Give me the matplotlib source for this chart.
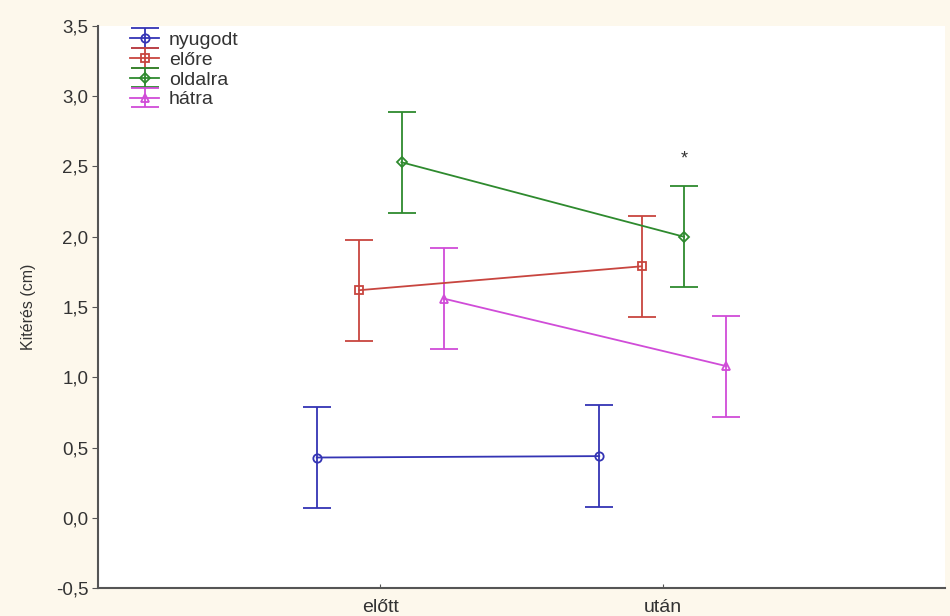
import matplotlib
matplotlib.use("Agg")
import matplotlib.pyplot as plt
import numpy as np

plt.rcParams['font.family'] = ['Liberation Sans', 'DejaVu Sans']

categories = ["előtt", "után"]
series = ["nyugodt", "előre", "oldalra", "hátra"]
means = {
    "nyugodt": [0.43, 0.44],
    "előre": [1.62, 1.79],
    "oldalra": [2.53, 2.00],
    "hátra": [1.56, 1.08],
}
errors = {
    "nyugodt": [0.36, 0.36],
    "előre": [0.36, 0.36],
    "oldalra": [0.36, 0.36],
    "hátra": [0.36, 0.36],
}
offsets = [-0.225, -0.075, 0.075, 0.225]
colors = ["#3434b4", "#c8453f", "#2e8a2e", "#d04cd8"]
markers = ["o", "s", "D", "^"]
yticks = [-0.5, 0.0, 0.5, 1.0, 1.5, 2.0, 2.5, 3.0, 3.5]
star_pos = (2 + 0.075, 2.55)

fig = plt.figure(figsize=(9.5, 6.16), dpi=100, facecolor="#fdf8ec")
ax = fig.add_axes([0.103, 0.045, 0.892, 0.913])
ax.set_facecolor("white")

x = np.arange(1, len(categories) + 1)
for s, off, c, m in zip(series, offsets, colors, markers):
    ms = 5 if m == "D" else 6
    ax.errorbar(x + off, means[s], yerr=errors[s], color=c, marker=m, ms=ms,
                mfc="none", mec=c, mew=1.3, lw=1.3, capsize=10, capthick=1.3,
                elinewidth=1.3, label=s)

ax.text(star_pos[0], star_pos[1], "*", ha="center", va="center", fontsize=13, color="#333333")

ax.set_xlim(0, 3)
ax.set_ylim(-0.5, 3.5)
ax.set_xticks(x)
ax.set_xticklabels(categories, fontsize=14, color="#333333")
ax.set_yticks(yticks)
ax.set_yticklabels([f"{v:.1f}".replace(".", ",") for v in yticks], fontsize=13.5, color="#333333")
ax.set_ylabel("Kitérés (cm)", fontsize=11.5, color="#333333", labelpad=14)

for sp in ["top", "right"]:
    ax.spines[sp].set_visible(False)
for sp in ["left", "bottom"]:
    ax.spines[sp].set_color("#555555")
    ax.spines[sp].set_linewidth(1.5)
ax.tick_params(axis="y", direction="out", length=4, color="#555555", pad=3)
ax.tick_params(axis="x", direction="in", length=3, color="#555555", pad=8)

leg = ax.legend(loc="upper left", bbox_to_anchor=(0.022, 1.015), frameon=False, fontsize=14,
                handlelength=1.5, handletextpad=0.5, labelspacing=0.12, borderpad=0.2)
for t in leg.get_texts():
    t.set_color("#333333")

fig.savefig("out.png", dpi=100, facecolor=fig.get_facecolor())
